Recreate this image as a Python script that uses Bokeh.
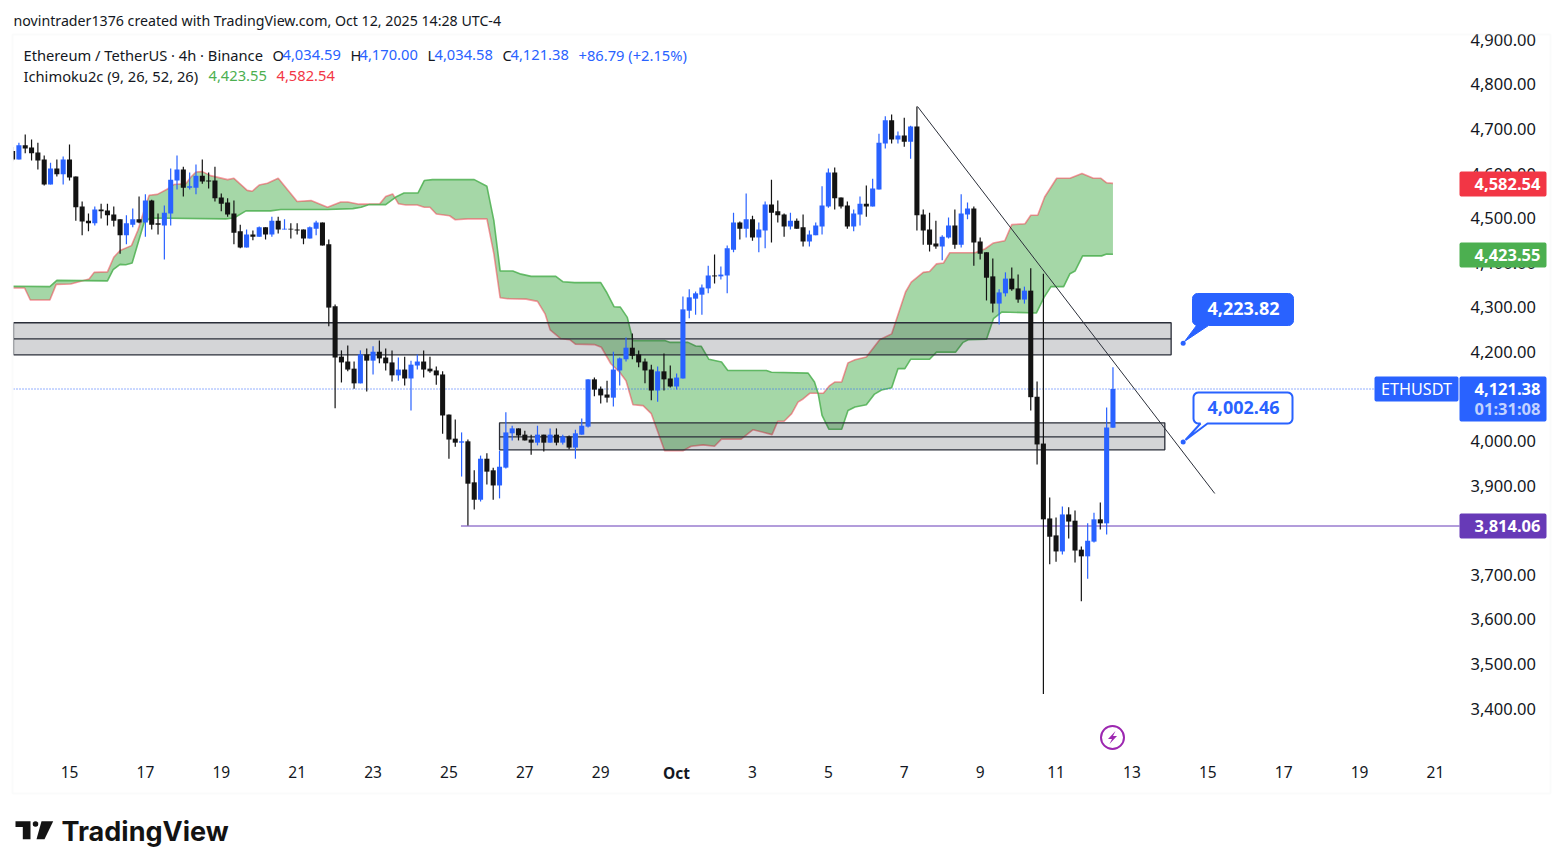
"""ETHUSDT 4h chart with Ichimoku cloud, zones and a trend line."""

import numpy as np
from bokeh.embed import file_html
from bokeh.models import ColumnDataSource, FixedTicker, Label, LinearAxis, PolyAnnotation
from bokeh.plotting import figure
from bokeh.resources import INLINE

# candles, 4h bars, the first one is 9 bars before Sep 15 00:00
FIRST_BAR = -9
opens = [
    4655, 4636, 4668, 4663, 4652, 4636, 4580, 4616, 4603, 4636, 4598, 4531, 4499, 4493, 4524, 4522,
    4513, 4502, 4466, 4490, 4502, 4495, 4544, 4493, 4488, 4515, 4589, 4614, 4573, 4573, 4600, 4589,
    4589, 4551, 4540, 4515, 4475, 4439, 4468, 4463, 4484, 4468, 4499, 4479, 4481, 4479, 4479, 4459,
    4481, 4495, 4446, 4307, 4194, 4183, 4167, 4134, 4199, 4185, 4205, 4192, 4181, 4152, 4165, 4145,
    4174, 4183, 4167, 4163, 4154, 4064, 4010, 4001, 4004, 3912, 3873, 3965, 3939, 3905, 3945, 4022,
    4033, 4019, 4008, 4001, 4019, 4001, 4019, 4001, 4015, 3990, 4019, 4037, 4143, 4122, 4109, 4102,
    4163, 4188, 4214, 4199, 4183, 4165, 4118, 4161, 4145, 4127, 4145, 4297, 4324, 4333, 4347, 4376,
    4374, 4376, 4434, 4495, 4481, 4502, 4461, 4477, 4535, 4520, 4513, 4486, 4499, 4484, 4452, 4466,
    4486, 4531, 4607, 4551, 4533, 4486, 4513, 4537, 4531, 4569, 4672, 4724, 4681, 4690, 4676, 4710,
    4513, 4479, 4448, 4441, 4461, 4488, 4445, 4513, 4526, 4452, 4428, 4374, 4313, 4336, 4369, 4347,
    4322, 4342, 4104, 3999, 3831, 3793, 3757, 3840, 3826, 3761, 3746, 3779, 3829, 3820, 4034.59,
]
highs = [
    4664, 4674, 4692, 4681, 4674, 4645, 4629, 4636, 4643, 4670, 4598, 4542, 4515, 4531, 4537, 4537,
    4531, 4502, 4511, 4526, 4553, 4558, 4546, 4515, 4533, 4616, 4645, 4620, 4607, 4625, 4636, 4607,
    4620, 4560, 4549, 4544, 4490, 4479, 4477, 4486, 4484, 4508, 4508, 4502, 4493, 4493, 4479, 4486,
    4499, 4495, 4457, 4311, 4208, 4219, 4183, 4208, 4212, 4217, 4230, 4212, 4208, 4192, 4194, 4185,
    4199, 4208, 4194, 4172, 4161, 4064, 4053, 4024, 4008, 3939, 3972, 3977, 3945, 3983, 4069, 4039,
    4033, 4028, 4019, 4039, 4019, 4033, 4033, 4019, 4017, 4030, 4055, 4143, 4147, 4127, 4140, 4205,
    4192, 4237, 4246, 4208, 4190, 4176, 4172, 4201, 4174, 4156, 4329, 4345, 4340, 4356, 4398, 4423,
    4396, 4443, 4517, 4497, 4560, 4510, 4495, 4542, 4591, 4544, 4515, 4517, 4504, 4513, 4477, 4495,
    4576, 4616, 4618, 4551, 4542, 4524, 4553, 4578, 4593, 4694, 4733, 4737, 4699, 4730, 4712, 4755,
    4524, 4517, 4499, 4466, 4506, 4524, 4558, 4540, 4531, 4461, 4428, 4414, 4345, 4383, 4394, 4378,
    4351, 4392, 4138, 4380, 3878, 3833, 3858, 3856, 3849, 3768, 3820, 3844, 3867, 4080, 4170.00,
]
lows = [
    4632, 4636, 4650, 4634, 4614, 4578, 4580, 4598, 4580, 4589, 4499, 4466, 4475, 4488, 4504, 4488,
    4486, 4425, 4446, 4484, 4493, 4463, 4479, 4468, 4412, 4488, 4569, 4553, 4569, 4558, 4582, 4571,
    4542, 4520, 4508, 4446, 4437, 4439, 4455, 4463, 4457, 4463, 4470, 4479, 4459, 4468, 4446, 4459,
    4466, 4443, 4262, 4078, 4136, 4161, 4122, 4134, 4116, 4154, 4179, 4163, 4138, 4140, 4129, 4073,
    4165, 4147, 4158, 4131, 4021, 3965, 3992, 3925, 3815, 3851, 3869, 3907, 3873, 3876, 3943, 4006,
    4006, 4006, 3974, 3995, 3981, 4001, 3995, 3997, 3986, 3965, 4019, 4035, 4105, 4089, 4091, 4082,
    4129, 4183, 4188, 4170, 4134, 4096, 4093, 4118, 4125, 4120, 4145, 4280, 4288, 4288, 4336, 4358,
    4367, 4336, 4428, 4457, 4461, 4454, 4428, 4437, 4450, 4495, 4463, 4479, 4481, 4441, 4441, 4466,
    4468, 4528, 4524, 4526, 4481, 4475, 4488, 4508, 4531, 4569, 4661, 4672, 4672, 4665, 4638, 4477,
    4445, 4430, 4436, 4410, 4459, 4436, 4439, 4502, 4398, 4412, 4320, 4293, 4266, 4329, 4342, 4315,
    4313, 4073, 3952, 3437, 3728, 3734, 3750, 3786, 3732, 3645, 3696, 3777, 3806, 3795, 4034.58,
]
closes = [
    4636, 4668, 4661, 4650, 4634, 4580, 4616, 4603, 4636, 4596, 4529, 4497, 4493, 4524, 4520, 4511,
    4499, 4466, 4493, 4502, 4495, 4544, 4490, 4490, 4517, 4591, 4614, 4573, 4576, 4600, 4587, 4587,
    4549, 4537, 4513, 4472, 4439, 4468, 4463, 4484, 4468, 4499, 4479, 4481, 4479, 4477, 4459, 4484,
    4495, 4443, 4304, 4192, 4181, 4165, 4134, 4199, 4185, 4205, 4190, 4179, 4152, 4165, 4145, 4176,
    4183, 4165, 4161, 4152, 4062, 4008, 4001, 4004, 3909, 3873, 3965, 3936, 3905, 3947, 4024, 4033,
    4017, 4006, 4001, 4019, 4001, 4019, 4001, 4015, 3990, 4022, 4039, 4143, 4120, 4107, 4102, 4165,
    4190, 4214, 4196, 4181, 4163, 4118, 4161, 4143, 4127, 4147, 4300, 4327, 4336, 4349, 4376, 4374,
    4378, 4437, 4495, 4481, 4502, 4461, 4479, 4535, 4517, 4511, 4486, 4499, 4481, 4452, 4468, 4488,
    4533, 4607, 4549, 4531, 4486, 4515, 4537, 4531, 4571, 4674, 4724, 4681, 4690, 4676, 4710, 4511,
    4477, 4445, 4441, 4463, 4488, 4445, 4515, 4526, 4450, 4425, 4371, 4313, 4338, 4369, 4345, 4322,
    4342, 4103, 3997, 3829, 3790, 3757, 3840, 3824, 3759, 3746, 3781, 3829, 3820, 4035, 4121.38,
]

# ichimoku cloud borders, (bar, price)
lead_red_bars = [
    -9, -7.1, -6.2, -3.1, -2.1, 0.2, 3.1, 3.9, 6, 7, 8, 9.8, 10.8, 11.8, 12.6, 13.9, 15.5, 16.5,
    18.4, 19.2, 20, 21, 22.3, 25, 26, 28.1, 28.9, 30, 31.3, 33, 36, 38.2, 40.8, 42.9, 44, 45.8, 49,
    50, 51.1, 52, 53.2, 55, 56.1, 57, 58, 60.1, 61, 63, 66, 67.1, 68.1, 69.3, 72.2, 74, 75.2, 76,
    77.7, 79.1, 80, 83, 84.1, 85.6, 87, 88, 89.1, 90.7, 92, 94.1, 97, 98.3, 100.2, 102, 103.1,
    106.2, 108.1, 111.1, 112, 113, 114.2, 115.2, 116, 117.1, 119.2, 120.2, 121, 122.1, 123.1,
    124.2, 126, 128.1, 130, 132.2, 133.1, 135, 136, 137.1, 138.2, 139.2, 143.2, 144.8, 146.1,
    147.9, 149, 151.1, 152, 153.1, 154.2, 156.1, 158.2, 160.1, 161.9, 163.1, 164, 165,
]
lead_red = [
    4348, 4348, 4321, 4321, 4356, 4357, 4368, 4383, 4384, 4417, 4432, 4443, 4477, 4522, 4556, 4558,
    4570, 4580, 4582, 4597, 4608, 4609, 4600, 4591, 4594, 4567, 4565, 4579, 4583, 4594, 4542, 4544,
    4529, 4541, 4541, 4536, 4536, 4553, 4559, 4537, 4534, 4534, 4529, 4529, 4514, 4510, 4501, 4503,
    4503, 4425, 4326, 4324, 4323, 4318, 4290, 4254, 4234, 4232, 4222, 4221, 4215, 4178, 4159, 4140,
    4086, 4084, 4066, 3983, 3983, 3993, 3996, 3993, 4009, 4009, 4030, 4019, 4049, 4049, 4066, 4092,
    4099, 4112, 4112, 4129, 4137, 4137, 4180, 4187, 4193, 4232, 4245, 4339, 4361, 4383, 4385, 4402,
    4404, 4427, 4427, 4436, 4449, 4454, 4490, 4492, 4511, 4511, 4552, 4594, 4594, 4605, 4594, 4594,
    4584, 4582.54,
]
lead_green_bars = [
    -9, -3.1, -2, 6, 6.9, 8, 8.9, 9.9, 10.8, 11.8, 12.8, 24.7, 26, 27.9, 31.8, 33.4, 40.8, 44.8,
    46.1, 47.4, 50, 51.6, 52.9, 55.1, 56.1, 57.4, 64, 66, 67.1, 68.1, 70.1, 71.4, 73, 76.9, 78,
    79.9, 84, 84.9, 86.1, 87.1, 88.2, 89.1, 94.1, 94.9, 97.8, 99, 99.9, 101.1, 103.1, 104.1, 110.2,
    111, 116.8, 117.8, 118.4, 119, 120.1, 122.1, 123.1, 124.2, 126, 127.3, 128.4, 130, 131, 132.1,
    133, 136, 137.1, 140.1, 141.3, 142.1, 145, 146.1, 147.4, 152.9, 154.1, 155.2, 157.2, 158.2,
    159, 160.2, 163.2, 164, 165,
]
lead_green = [
    4352, 4351, 4365, 4364, 4389, 4401, 4400, 4404, 4447, 4495, 4505, 4503, 4505, 4521, 4521, 4524,
    4524, 4526, 4529, 4535, 4535, 4552, 4561, 4561, 4589, 4591, 4591, 4576, 4499, 4386, 4386, 4379,
    4374, 4374, 4362, 4360, 4360, 4339, 4306, 4305, 4282, 4230, 4230, 4226, 4226, 4218, 4217, 4188,
    4182, 4163, 4163, 4159, 4157, 4137, 4110, 4062, 4031, 4031, 4073, 4081, 4086, 4110, 4119, 4124,
    4167, 4167, 4188, 4188, 4204, 4204, 4226, 4232, 4233, 4279, 4294, 4292, 4327, 4351, 4351, 4380,
    4386, 4420, 4420, 4424, 4423.55,
]

# drawings
zone_left_bars = [-8.86, 68]
zone_right_bars = [174.2, 173.2]
zone_tops = [4270, 4045.5]
zone_mids = [4234, 4014]
zone_bottoms = [4198, 3985]
trend_bars = [134.1, 181.1]
trend_prices = [4755, 3887]
LAST_PRICE = 4121.38
SUPPORT_PRICE = 3814.06
SUPPORT_START_BAR = 61.9
CALLOUT_BAR = 176.1
CALLOUT_PRICES = [4223.82, 4002.46]

price_ticks = [3400, 3500, 3600, 3700, 3800, 3900, 4000, 4100, 4200, 4300, 4400, 4500, 4600,
               4700, 4800, 4900]
date_ticks = list(range(0, 217, 12))
date_labels = ["15", "17", "19", "21", "23", "25", "27", "29", "", "3", "5", "7", "9", "11", "13",
               "15", "17", "19", "21"]

FONT = "Noto Sans"
INK = "#131722"
BLUE = "#2962ff"
GREEN = "#4caf50"
RED = "#f23645"
PURPLE = "#673ab7"
CANDLE_BLACK = "#131313"

# page geometry: the frame fills the canvas, chart area edges in page pixels
WIDTH, HEIGHT = 1560, 864
CHART_LEFT, CHART_RIGHT, CHART_BOTTOM = 13, 1459, 755
PX_PER_BAR = 6.324
PX_PER_PRICE = 0.4458
LABEL_NUDGE = 4.5  # price labels sit 2px above their level, as in the original


def sx(px):
    return (px - 69) / PX_PER_BAR


def sy(py):
    return LAST_PRICE + (388.5 - py) / PX_PER_PRICE


def text(plot, px, py, value, color=INK, size="14.7px", align="left", style="normal", font=FONT):
    plot.add_layout(Label(x=sx(px), y=sy(py), text=value, text_color=color, text_font=font,
                          text_font_size=size, text_font_style=style, text_align=align,
                          text_baseline="middle"))


def rounded_outline(left, top, right, bottom, radius, tail=None):
    """Page-pixel outline of a rounded box, with an optional tail on the bottom side."""
    xs, ys = [], []
    corners = [(right - radius, top + radius, -90), (right - radius, bottom - radius, 0),
               (left + radius, bottom - radius, 90), (left + radius, top + radius, 180)]
    for n, (cx, cy, start) in enumerate(corners):
        for a in np.radians(np.linspace(start, start + 90, 6)):
            xs.append(cx + radius * np.cos(a))
            ys.append(cy + radius * np.sin(a))
        if n == 1 and tail:
            for tx, ty in tail:
                xs.append(tx)
                ys.append(ty)
    return xs, ys


def poly(plot, xs, ys, fill, line=None, line_width=1):
    plot.add_layout(PolyAnnotation(xs=[sx(v) for v in xs], ys=[sy(v) for v in ys],
                                   fill_color=fill, fill_alpha=1,
                                   line_color=line, line_width=line_width,
                                   line_alpha=1 if line else 0))


p = figure(width=WIDTH, height=HEIGHT, output_backend="svg", toolbar_location=None,
           x_range=(sx(0), sx(WIDTH)), y_range=(sy(HEIGHT), sy(0)),
           x_axis_location=None, y_axis_location=None,
           min_border=0, outline_line_color=None,
           background_fill_color="white", border_fill_color="white")
p.grid.visible = False

price_axis_ticks = [t + LABEL_NUDGE for t in price_ticks]
price_axis = LinearAxis(ticker=FixedTicker(ticks=price_axis_ticks),
                        major_label_overrides={k: f"{t:,.2f}" for k, t in zip(price_axis_ticks, price_ticks)},
                        fixed_location=sx(CHART_RIGHT))
date_axis = LinearAxis(ticker=FixedTicker(ticks=date_ticks),
                       major_label_overrides=dict(zip(date_ticks, date_labels)),
                       fixed_location=sy(CHART_BOTTOM))
p.add_layout(price_axis, "right")
p.add_layout(date_axis, "below")
for ax in (price_axis, date_axis):
    ax.axis_line_color = None
    ax.major_tick_line_color = None
    ax.minor_tick_line_color = None
    ax.major_tick_out = 0
    ax.major_tick_in = 0
    ax.minor_tick_out = 0
    ax.major_label_text_color = INK
    ax.major_label_text_font = FONT
price_axis.major_label_text_font_size = "16.5px"
date_axis.major_label_text_font_size = "15.5px"
price_axis.major_label_standoff = 11
date_axis.major_label_standoff = 10

# cloud, filled between both borders
p.patch(lead_red_bars + lead_green_bars[::-1], lead_red + lead_green[::-1],
        fill_color=GREEN, fill_alpha=0.5, line_color=None)
p.line(lead_red_bars, lead_red, line_color=RED, line_alpha=0.5, line_width=1.6)
p.line(lead_green_bars, lead_green, line_color=GREEN, line_alpha=0.85, line_width=1.6)

# zones
p.quad(left=zone_left_bars, right=zone_right_bars, top=zone_tops, bottom=zone_bottoms,
       fill_color="#2a2e39", fill_alpha=0.2, line_color="#2a2e39", line_width=1.3)
p.segment(zone_left_bars, zone_mids, zone_right_bars, zone_mids, line_color="#2a2e39",
          line_width=1.3)

# price lines
p.line([sx(CHART_LEFT), sx(1374)], [LAST_PRICE, LAST_PRICE], line_color=BLUE, line_width=1,
       line_dash=[1, 2])
p.line([SUPPORT_START_BAR, sx(CHART_RIGHT)], [SUPPORT_PRICE, SUPPORT_PRICE], line_color=PURPLE,
       line_width=1)

# candles, the part left of the chart area is hidden by the white strip below
bars = [FIRST_BAR + n for n in range(len(opens))]
colors = [BLUE if c >= o else CANDLE_BLACK for o, c in zip(opens, closes)]
source = ColumnDataSource(data=dict(
    bar=bars, open=opens, high=highs, low=lows, close=closes, color=colors,
))
p.segment("bar", "high", "bar", "low", source=source, line_color="color", line_width=1.2)
p.vbar("bar", width=0.8, top="open", bottom="close", source=source, fill_color="color",
       line_color=None)
p.quad(left=[sx(0)], right=[sx(CHART_LEFT)], top=[sy(34)], bottom=[sy(793)], fill_color="white",
       line_color=None)

# trend line
p.line(trend_bars, trend_prices, line_color="#2a2e39", line_width=1)

# callouts
filled_x, filled_y = rounded_outline(1192, 293, 1293, 325, 5, [(1208, 325), (1184, 341), (1196, 325)])
p.patch([sx(v) for v in filled_x], [sy(v) for v in filled_y], fill_color=BLUE, line_color=BLUE)
open_x, open_y = rounded_outline(1193, 392, 1292, 423, 5, [(1207, 423), (1185, 439.5), (1200, 423)])
p.patch([sx(v) for v in open_x], [sy(v) for v in open_y], fill_color="white", line_color=BLUE,
        line_width=2)
p.scatter([CALLOUT_BAR, CALLOUT_BAR], CALLOUT_PRICES, size=5, marker="circle", fill_color=BLUE,
          line_color=None)
text(p, 1243, 308, "4,223.82", "white", "18px", "center", "bold")
text(p, 1243, 407, "4,002.46", BLUE, "18px", "center", "bold")

# lightning icon
p.scatter([sx(1112)], [sy(737)], size=23, marker="circle", fill_color=None, line_color="#9c27b0",
          line_width=2)
bolt_x = [1115, 1107.5, 1111.5, 1109, 1116.5, 1112.5]
bolt_y = [730.5, 738.5, 738.5, 743.5, 735.5, 735.5]
p.patch([sx(v) for v in bolt_x], [sy(v) for v in bolt_y], fill_color="#9c27b0", line_color=None)

# header
text(p, 13, 20, "novintrader1376 created with TradingView.com, Oct 12, 2025 14:28 UTC-4", size="14.2px")
text(p, 23, 54, "Ethereum / TetherUS · 4h · Binance")
for px, letter in [(272, "O"), (350, "H"), (427, "L"), (502, "C")]:
    text(p, px, 54, letter)
for px, value in [(282, "4,034.59"), (359, "4,170.00"), (434, "4,034.58"), (510, "4,121.38"),
                  (578, "+86.79 (+2.15%)")]:
    text(p, px, 54, value, BLUE)
text(p, 23, 75, "Ichimoku2c (9, 26, 52, 26)")
text(p, 208, 75, "4,423.55", GREEN)
text(p, 276, 75, "4,582.54", RED)
text(p, 676, 772, "Oct", size="15.5px", align="center", style="bold")

# price tags over the axis
for tag_top, tag_bottom, fill in [(171, 196, RED), (242, 267, GREEN), (376, 421, BLUE),
                                  (513, 538, PURPLE)]:
    xs, ys = rounded_outline(1459, tag_top, 1546, tag_bottom, 2)
    poly(p, xs, ys, fill)
xs, ys = rounded_outline(1374, 376, 1458, 401, 2)
poly(p, xs, ys, BLUE)
text(p, 1416, 388.5, "ETHUSDT", "white", "16.2px", "center")
text(p, 1540, 183, "4,582.54", "white", "16.5px", "right", "bold")
text(p, 1540, 254, "4,423.55", "white", "16.5px", "right", "bold")
text(p, 1540, 388, "4,121.38", "white", "16.5px", "right", "bold")
text(p, 1540, 408, "01:31:08", "#c2d2ff", "16.5px", "right", "bold")
text(p, 1540, 525, "3,814.06", "white", "16.5px", "right", "bold")

# panel border
xs, ys = rounded_outline(12, 34, 1550, 793, 1)
p.add_layout(PolyAnnotation(xs=[sx(v) for v in xs], ys=[sy(v) for v in ys], fill_alpha=0,
                            line_color="#f0f1f3", line_width=2))

# logo
poly(p, [15, 30, 30, 22.3, 22.3, 15], [820.7, 820.7, 838.7, 838.7, 826.5, 826.5], CANDLE_BLACK)
poly(p, [41, 52.7, 44, 36], [820.7, 820.7, 838.7, 838.7], CANDLE_BLACK)
dot_angles = np.radians(np.arange(0, 360, 30))
poly(p, list(35 + 2.8 * np.cos(dot_angles)), list(823.5 + 2.8 * np.sin(dot_angles)), CANDLE_BLACK)
text(p, 61, 831, "TradingView", CANDLE_BLACK, "27px", "left", "bold", "Inter")

open("out.html", "w").write(file_html(p, INLINE))
